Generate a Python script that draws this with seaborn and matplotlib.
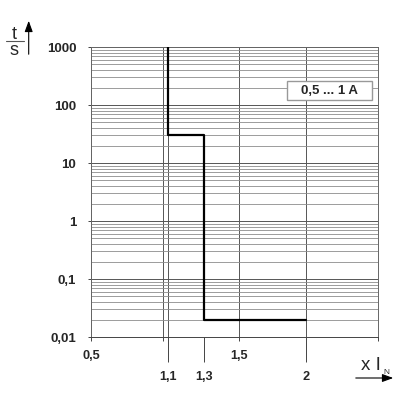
import numpy as np
import pandas as pd
import matplotlib
matplotlib.use("Agg")
import matplotlib.pyplot as plt
from matplotlib.lines import Line2D
from matplotlib.patches import Rectangle
from matplotlib.ticker import LogLocator, NullFormatter
import seaborn as sns

# --- data ---
curve_x = [1.1, 1.1, 1.3, 1.3, 2.0]          # x I_N
curve_t = [1000, 30, 30, 0.02, 0.02]         # t / s
y_ticks = [0.01, 0.1, 1, 10, 100, 1000]
y_labels = ["0,01", "0,1", "1", "10", "100", "1000"]
x_major = [0.5, 1.0, 1.5, 2.5]
x_major_labels = ["0,5", "", "1,5", ""]
x_minor = [1.1, 1.3, 2.0]
x_minor_labels = ["1,1", "1,3", "2"]
range_label = "0,5 ... 1 A"

# the x axis in the drawing is not linear, so map it piecewise
x_anchor = [0.5, 1.0, 1.1, 1.3, 1.5, 2.0, 2.5]
x_frac = np.array([0, 72.3, 77.3, 113.3, 147.7, 215.0, 286.7]) / 286.7

def fwd(v):
    return np.interp(v, x_anchor, x_frac)

def inv(v):
    return np.interp(v, x_frac, x_anchor)

sns.set_style("white")
plt.rcParams["font.family"] = ["Liberation Sans", "DejaVu Sans"]

df = pd.DataFrame({"x": curve_x, "t": curve_t})

fig = plt.figure(figsize=(4, 4), dpi=100)
ax = fig.add_axes([91 / 400, 63 / 400, 286.7 / 400, 290 / 400])

sns.lineplot(data=df, x="x", y="t", sort=False, estimator=None,
             color="black", lw=1.6, ax=ax, zorder=5)

ax.set_yscale("log")
ax.set_xscale("function", functions=(fwd, inv))
ax.set_xlim(0.5, 2.5)
ax.set_ylim(0.01, 1000)
ax.set_xlabel("")
ax.set_ylabel("")

# y axis ticks + grid
ax.set_yticks(y_ticks, labels=y_labels, fontsize=9.5, fontweight="bold")
ax.yaxis.set_minor_locator(LogLocator(base=10, subs=range(2, 10)))
ax.yaxis.set_minor_formatter(NullFormatter())
ax.tick_params(axis="y", which="major", length=2.2, width=0.7, pad=8.4,
               color="#444", left=True)
ax.tick_params(axis="y", which="minor", length=0)
ax.grid(axis="y", which="major", color="#555", lw=0.7)
ax.grid(axis="y", which="minor", color="#8c8c8c", lw=0.6)

# x axis ticks + grid
ax.set_xticks(x_major, labels=x_major_labels, fontsize=9.2, fontweight="bold")
ax.set_xticks(x_minor, labels=x_minor_labels, minor=True,
              fontsize=9.2, fontweight="bold")
ax.tick_params(axis="x", which="major", length=2.9, width=0.7, pad=6.6,
               color="#444", bottom=True)
ax.tick_params(axis="x", which="minor", length=18, width=0.7, pad=6.6,
               color="#444", bottom=True)
ax.grid(axis="x", which="both", color="#555", lw=0.7)
# no grid line at 1,3 (only the step itself)
ax.xaxis.get_minor_ticks()[1].gridline.set_visible(False)

for s in ax.spines.values():
    s.set_color("#666")
    s.set_linewidth(0.7)
ax.spines["bottom"].set_color("#444")

# range box
ax.add_patch(Rectangle((0.684, 0.817), 0.296, 0.0655, transform=ax.transAxes,
                       fc="white", ec="#999", lw=1.0, zorder=6))
ax.text(0.832, 0.85, range_label, transform=ax.transAxes, ha="center",
        va="center", fontsize=9.5, fontweight="bold", zorder=7)

# axis titles (t/s with arrow, x I_N with arrow)
fig.text(14.5 / 400, 1 - 39 / 400, "t", fontsize=13, ha="center", va="baseline")
fig.text(14 / 400, 1 - 55 / 400, "s", fontsize=13, ha="center", va="baseline")
fig.add_artist(Line2D([6 / 400, 24 / 400], [1 - 41 / 400, 1 - 41 / 400],
                      color="#555", lw=0.8))
ax.annotate("", xy=(28.7 / 400, 1 - 18 / 400), xytext=(28.7 / 400, 1 - 57 / 400),
            xycoords="figure fraction", textcoords="figure fraction",
            arrowprops=dict(arrowstyle="-|>,head_length=0.6,head_width=0.22",
                            color="black", lw=0.8, mutation_scale=11))

fig.text(361 / 400, 1 - 370.5 / 400, "x I", fontsize=13.5, ha="left", va="baseline")
fig.text(383 / 400, 1 - 373.5 / 400, "N", fontsize=6, ha="left", va="baseline")
ax.annotate("", xy=(396 / 400, 1 - 378 / 400), xytext=(353 / 400, 1 - 378 / 400),
            xycoords="figure fraction", textcoords="figure fraction",
            arrowprops=dict(arrowstyle="-|>,head_length=0.6,head_width=0.22",
                            color="black", lw=0.8, mutation_scale=11))

fig.savefig("out.png", dpi=100)
